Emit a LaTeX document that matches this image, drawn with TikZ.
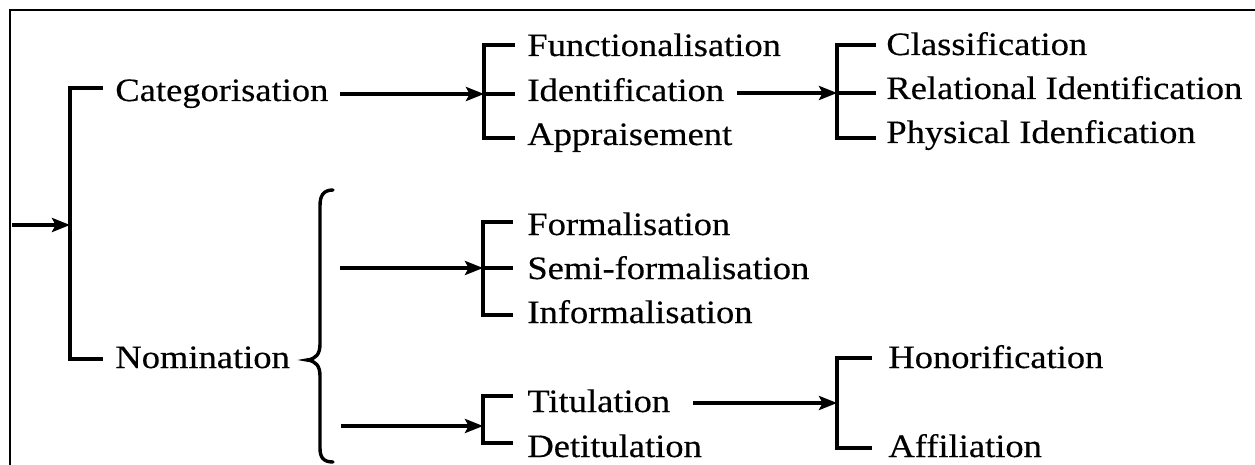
\documentclass[tikz,border=0pt]{standalone}
\usepackage{fontspec}
\setmainfont{Liberation Serif}[FakeStretch=1.12,FakeBold=0.35]
\usetikzlibrary{arrows.meta}
\begin{document}
\begin{tikzpicture}[x=0.5pt,y=-0.5pt,
  lbl/.style={anchor=base west,inner sep=0pt,font=\fontsize{16.3}{19}\selectfont},
  brk/.style={line width=2.3pt,line cap=butt,line join=miter},
  arr/.style={line width=1.9pt,-{Stealth[length=9pt,width=7pt,inset=1.8pt]}},
  frm/.style={line width=1.3pt},
  crly/.style={line width=1.7pt,line cap=round}]
\useasboundingbox (0,0) rectangle (1255,465);
\fill[white] (0,0) rectangle (1255,465);
% frame
\draw[frm] (10,465) -- (10,10) -- (1255,10);

% ---- coordinates
\coordinate (in) at (12,225);
\coordinate (aMid) at (70,225);
\coordinate (aTop) at (70,88);  \coordinate (aTopE) at (103,88);
\coordinate (aBot) at (70,359); \coordinate (aBotE) at (103,359);

% ---- level 1 labels
\node[lbl] (cat) at (115,101) {Categorisation};
\node[lbl] (nom) at (115,368) {Nomination};

% ---- level 2 labels
\node[lbl] (fun) at (527,56)  {Functionalisation};
\node[lbl] (ide) at (527,101) {Identification};
\node[lbl] (app) at (527,145) {Appraisement};

\node[lbl] (for) at (527,235) {Formalisation};
\node[lbl] (sem) at (527,279) {Semi-formalisation};
\node[lbl] (inf) at (527,323) {Informalisation};

\node[lbl] (tit) at (527,412) {Titulation};
\node[lbl] (det) at (527,457) {Detitulation};

% ---- level 3 labels
\node[lbl] (cla) at (886,55)  {Classification};
\node[lbl] (rel) at (886,99)  {Relational Identification};
\node[lbl] (phy) at (886,143) {Physical Idenfication};

\node[lbl] (hon) at (888,368) {Honorification};
\node[lbl] (aff) at (888,457) {Affiliation};

% ---- main bracket
\draw[arr] (in) -- (aMid);
\draw[brk] (aTopE) -- (aTop) -- (aBot) -- (aBotE);

% ---- bracket B (categorisation)
\coordinate (catOut) at (340,94);
\coordinate (bTop) at (484,45);  \coordinate (bTopE) at (515,45);
\coordinate (bMid) at (484,94);  \coordinate (bMidE) at (515,94);
\coordinate (bBot) at (484,138); \coordinate (bBotE) at (515,138);
\draw[brk] (bTopE) -- (bTop) -- (bBot) -- (bBotE);
\draw[brk] (bMid) -- (bMidE);
\draw[arr] (catOut) -- (bMid);

% ---- bracket C (identification)
\coordinate (ideOut) at (737,93);
\coordinate (cTop) at (837,45);  \coordinate (cTopE) at (876,45);
\coordinate (cMid) at (837,93);  \coordinate (cMidE) at (876,93);
\coordinate (cBot) at (837,138); \coordinate (cBotE) at (876,138);
\draw[brk] (cTopE) -- (cTop) -- (cBot) -- (cBotE);
\draw[brk] (cMid) -- (cMidE);
\draw[arr] (ideOut) -- (cMid);

% ---- curly brace for nomination
\draw[crly] (333,190) .. controls (323,190) and (320,196) .. (320,206)
  -- (320,344) .. controls (320,354) and (316,359) .. (307,360)
  .. controls (316,361) and (320,366) .. (320,376)
  -- (320,448) .. controls (320,457) and (323,462) .. (333,462);

% ---- bracket D (formalisation)
\coordinate (dIn) at (340,268);
\coordinate (dTop) at (483,222); \coordinate (dTopE) at (513,222);
\coordinate (dMid) at (483,268); \coordinate (dMidE) at (513,268);
\coordinate (dBot) at (483,315); \coordinate (dBotE) at (513,315);
\draw[brk] (dTopE) -- (dTop) -- (dBot) -- (dBotE);
\draw[brk] (dMid) -- (dMidE);
\draw[arr] (dIn) -- (dMid);

% ---- bracket E (titulation)
\coordinate (eIn) at (341,426);
\coordinate (eTop) at (483,396); \coordinate (eTopE) at (513,396);
\coordinate (eMid) at (483,426);
\coordinate (eBot) at (483,443); \coordinate (eBotE) at (513,443);
\draw[brk] (eTopE) -- (eTop) -- (eBot) -- (eBotE);
\draw[arr] (eIn) -- (eMid);

% ---- bracket F (honorification)
\coordinate (titOut) at (693,403);
\coordinate (fTop) at (837,358); \coordinate (fTopE) at (872,358);
\coordinate (fMid) at (837,403);
\coordinate (fBot) at (837,448); \coordinate (fBotE) at (872,448);
\draw[brk] (fTopE) -- (fTop) -- (fBot) -- (fBotE);
\draw[arr] (titOut) -- (fMid);
\end{tikzpicture}
\end{document}
